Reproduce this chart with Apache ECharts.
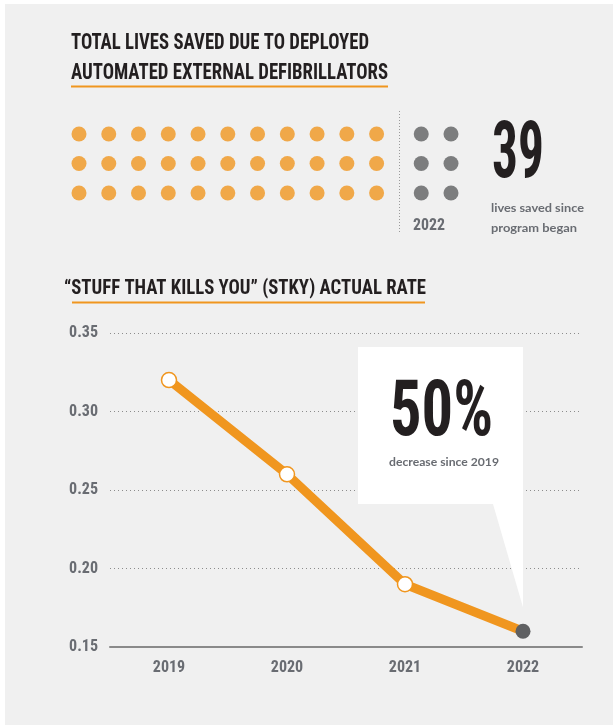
<!DOCTYPE html>
<html><head><meta charset="utf-8">
<script src="https://cdn.jsdelivr.net/npm/echarts@6/dist/echarts.min.js"></script>
<style>html,body{margin:0;padding:0;background:#fff;}#main{width:613px;height:725px;}</style>
</head><body><div id="main"></div>
<script>
// ---- data ----
const titleTop = ['TOTAL LIVES SAVED DUE TO DEPLOYED', 'AUTOMATED EXTERNAL DEFIBRILLATORS'];
const dotGroupNames = ['Before 2022', '2022'];
const dotGroupCounts = [33, 6];
const dotRows = 3;
const totalLivesSaved = 39;
const livesCaption = ['lives saved since', 'program began'];
const dotGroupLabel = '2022';

const titleBottom = '\u201CSTUFF THAT KILLS YOU\u201D (STKY) ACTUAL RATE';
const rateYears = ['2019', '2020', '2021', '2022'];
const rateValues = [0.32, 0.26, 0.19, 0.16];
const rateMin = 0.15, rateMax = 0.35, rateStep = 0.05;
const calloutValue = '50%';
const calloutCaption = 'decrease since 2019';

// ---- styles ----
const ORANGE = '#f0961f', DARKDOT = '#5f6062', INK = '#231f20', GREY = '#696c72';
const COND = '"Roboto Condensed", "DejaVu Sans Condensed", sans-serif';
const SANS = 'Lato, "Noto Sans", sans-serif';

const mctx = document.createElement('canvas').getContext('2d');
function tw(text, font) { mctx.font = font; return mctx.measureText(text).width; }
function fitText(text, font, x, y, w, fill, align) {
  align = align || 'left';
  const s = w / tw(text, font);
  const cx = align === 'center' ? x + w / 2 : x;
  return { type: 'text', x: cx, y: y, scaleX: s, z: 5,
    style: { text: text, x: 0, y: 0, font: font, fill: fill,
      align: align, textAlign: align, verticalAlign: 'middle', textVerticalAlign: 'middle' } };
}

// dot positions built from counts (column-major, 3 rows)
const dotSeriesData = [];
let colOffset = 0;
dotGroupCounts.forEach((n, g) => {
  const pts = [];
  for (let i = 0; i < n; i++) pts.push([colOffset + Math.floor(i / dotRows), i % dotRows]);
  dotSeriesData.push(pts);
  colOffset += Math.ceil(n / dotRows) + 0.5;
});

const chart = echarts.init(document.getElementById('main'), null, { renderer: 'canvas' });

const baseGraphics = [
  { type: 'rect', z: -10, shape: { x: 5, y: 4, width: 620, height: 730 }, style: { fill: '#f0f0f0' } },
  fitText(titleTop[0], 'bold 22px ' + COND, 71, 43, 298, INK),
  fitText(titleTop[1], 'bold 22px ' + COND, 71, 73, 317, INK),
  { type: 'line', z: 5, shape: { x1: 71, y1: 86.5, x2: 388, y2: 86.5 }, style: { stroke: ORANGE, lineWidth: 2 } },
  { type: 'line', z: 5, shape: { x1: 399.5, y1: 111, x2: 399.5, y2: 232 }, style: { stroke: '#9a9a9a', lineWidth: 1, lineDash: [1, 2] } },
  fitText(dotGroupLabel, 'bold 17px ' + COND, 413, 226, 32, GREY),
  fitText(String(totalLivesSaved), 'bold 79px ' + COND, 492, 157, 52, INK),
  fitText(livesCaption[0], 'bold 12px ' + SANS, 491, 208, 93, GREY),
  fitText(livesCaption[1], 'bold 12px ' + SANS, 491, 228, 86, GREY),
  fitText(titleBottom, 'bold 20px ' + COND, 64, 289, 362, INK),
  { type: 'line', z: 5, shape: { x1: 72, y1: 302.5, x2: 425, y2: 302.5 }, style: { stroke: ORANGE, lineWidth: 2 } }
];

const option = {
  animation: false,
  backgroundColor: '#ffffff',
  grid: [
    { left: 79, right: 162, top: 134, height: 59 },
    { left: 110, right: 31, top: 333, bottom: 78 }
  ],
  xAxis: [
    { gridIndex: 0, type: 'value', min: 0, max: 12.5, show: false },
    { gridIndex: 1, type: 'category', data: rateYears, boundaryGap: true,
      axisLine: { show: true, lineStyle: { color: '#8a8a8a', width: 2 } },
      axisTick: { show: false },
      axisLabel: { color: GREY, fontFamily: COND, fontWeight: 'bold', fontSize: 16, margin: 13 } }
  ],
  yAxis: [
    { gridIndex: 0, type: 'value', min: 0, max: 2, inverse: true, show: false },
    { gridIndex: 1, type: 'value', min: rateMin, max: rateMax, interval: rateStep,
      axisLine: { show: false }, axisTick: { show: false },
      splitLine: { show: true, lineStyle: { color: '#8c8c8c', type: [1, 3], width: 1 } },
      axisLabel: { color: GREY, fontFamily: COND, fontWeight: 'bold', fontSize: 16, margin: 12,
        formatter: v => v.toFixed(2) } }
  ],
  series: [
    { name: dotGroupNames[0], type: 'scatter', xAxisIndex: 0, yAxisIndex: 0, data: dotSeriesData[0],
      symbolSize: 15, itemStyle: { color: ORANGE }, silent: true },
    { name: dotGroupNames[1], type: 'scatter', xAxisIndex: 0, yAxisIndex: 0, data: dotSeriesData[1],
      symbolSize: 15, itemStyle: { color: DARKDOT }, silent: true },
    { name: 'STKY actual rate', type: 'line', xAxisIndex: 1, yAxisIndex: 1, z: 3,
      data: rateValues.map((v, i) => i === rateValues.length - 1
        ? { value: v, itemStyle: { color: DARKDOT, borderWidth: 0 } }
        : { value: v }),
      symbol: 'circle', symbolSize: 15,
      lineStyle: { color: ORANGE, width: 9 },
      itemStyle: { color: '#ffffff', borderColor: ORANGE, borderWidth: 1.5 },
      silent: true }
  ],
  graphic: { elements: baseGraphics }
};
chart.setOption(option);

// callout anchored to last data point
const last = chart.convertToPixel({ seriesIndex: 2 }, [rateYears.length - 1, rateValues[rateValues.length - 1]]);
const tipX = last[0], tipY = last[1] - 24;
const bx1 = 358, bx2 = tipX, by1 = 347, by2 = 504;
chart.setOption({ graphic: { elements: baseGraphics.concat([
  { type: 'polygon', z: 1, shape: { points: [[bx1, by1], [bx2, by1], [bx2, tipY], [bx2 - 30, by2], [bx1, by2]] },
    style: { fill: '#ffffff' } },
  fitText(calloutValue, 'bold 77px ' + COND, 390, 416, 103, INK),
  fitText(calloutCaption, 'bold 12px ' + SANS, 389, 462, 110, GREY)
]) } });
</script></body></html>
